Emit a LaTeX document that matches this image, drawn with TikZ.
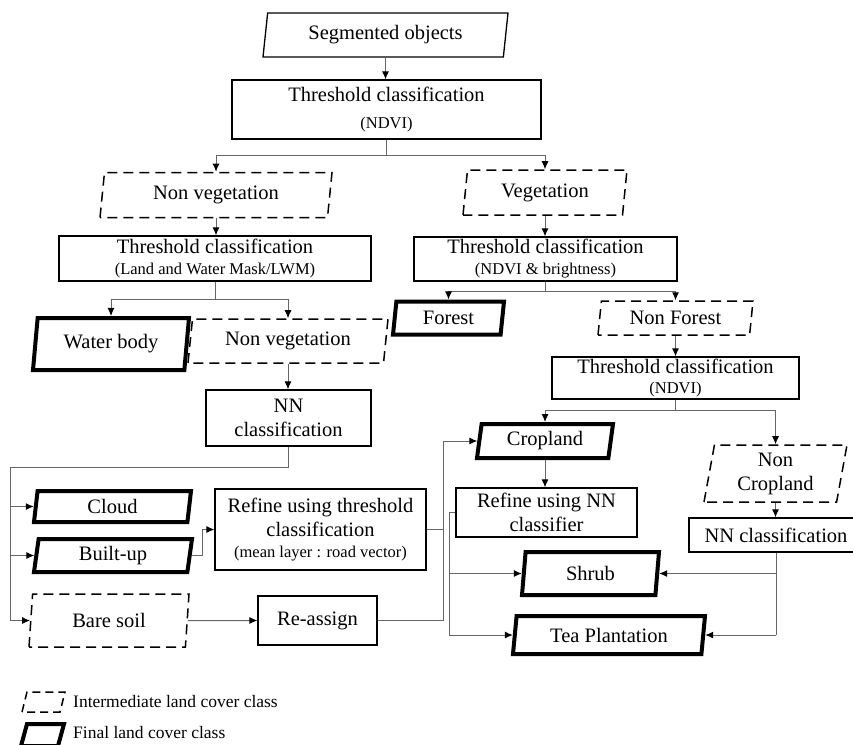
\documentclass[tikz,border=0pt]{standalone}
\usepackage{fontspec}
\setmainfont{Liberation Serif}
\usepackage{tikz}
\usetikzlibrary{arrows.meta}
\usetikzlibrary{shapes.geometric}
\usetikzlibrary{calc}
\newcommand\boxwidth{1.3pt}
\newcommand\finalwidth{4pt}
\newcommand\interwidth{1.5pt}
\newcommand\linkwidth{1pt}
\newcommand\mainsize{\fontsize{20.5}{24}\selectfont}
\newcommand\subsize{\fontsize{16.5}{19}\selectfont}
\newcommand\legendsize{\fontsize{17.5}{20}\selectfont}
\tikzset{>={Latex[length=8pt,width=7pt,color=black]}}
\tikzset{
    dims/.style 2 args={minimum width=#1, minimum height=#2}
}
\tikzstyle{process} = [rectangle, draw, line width=\boxwidth, font=\mainsize, align=center, inner sep=0pt]
\tikzstyle{slanted} = [trapezium, trapezium left angle=76, trapezium right angle=104,
 trapezium stretches body, inner sep=0pt, font=\mainsize, align=center]
\tikzstyle{dataset} = [slanted, draw, line width=\boxwidth]
\tikzstyle{inter}   = [slanted, draw, line width=\interwidth, dash pattern=on 10pt off 6pt]
\tikzstyle{final}   = [slanted, draw, line width=\finalwidth]
\tikzstyle{link}    = [draw=black!60, line width=\linkwidth]
\tikzstyle{keytext} = [anchor=west, inner sep=0pt, font=\legendsize]

\begin{document}
\begin{tikzpicture}[x=1pt, y=-1pt]
    \useasboundingbox (0,0) rectangle (853,744);
    \clip (0,0) rectangle (853,744);
    % upper part
    \draw (385.5, 35) node[dataset, dims={245pt}{44pt}] (seg) {Segmented objects};
    \draw (386.5, 109.5) node[process, dims={309pt}{59pt}] (tc1)
        {Threshold classification\\[3pt]{\subsize (NDVI)}};
    \draw (216, 195) node[inter, dims={232pt}{45pt}] (nonveg1) {Non vegetation};
    \draw (545, 192.5) node[inter, dims={164pt}{45pt}] (veg) {Vegetation};
    \draw (215, 258.5) node[process, dims={312pt}{45pt}] (tc2)
        {Threshold classification\\[-3pt]{\subsize (Land and Water Mask/LWM)}};
    \draw (545.5, 259) node[process, dims={263pt}{44pt}] (tc3)
        {Threshold classification\\[-3pt]{\subsize (NDVI \& brightness)}};
    % non vegetation branch
    \draw (111, 344) node[final, dims={156pt}{52pt}] (water) {Water body};
    \draw (288, 341) node[inter, dims={200pt}{44pt}] (nonveg2) {Non vegetation};
    \draw (288.5, 418) node[process, dims={165pt}{56pt}] (nn1) {NN\\classification};
    \draw (112.5, 506.5) node[final, dims={157pt}{31pt}] (cloud) {Cloud};
    \draw (113, 555.5) node[final, dims={158pt}{33pt}] (built) {Built-up};
    \draw (109, 620.5) node[inter, dims={160pt}{53pt}] (bare) {Bare soil};
    \draw (320.5, 529.5) node[process, dims={211pt}{81pt}] (refine1)
        {Refine using threshold\\classification\\[-3pt]{\subsize (mean layer : road vector)}};
    \draw (317.5, 620.5) node[process, dims={119pt}{49pt}] (reassign) {Re-assign};
    % vegetation branch
    \draw (448.5, 318) node[final, dims={111pt}{33pt}] (forest) {Forest};
    \draw (675.5, 318) node[inter, dims={155pt}{34pt}] (nonforest) {Non Forest};
    \draw (675.5, 378) node[process, dims={247pt}{42pt}] (tc4)
        {Threshold classification\\[-4pt]{\subsize (NDVI)}};
    \draw (545, 441) node[final, dims={136pt}{34pt}] (cropland) {Cropland};
    \draw (775.5, 473.5) node[inter, dims={143pt}{57pt}] (noncrop) {Non\\Cropland};
    \draw (546.5, 512.5) node[process, dims={181pt}{49pt}] (refinenn) {Refine using NN\\classifier};
    \draw (776, 535) node[process, dims={174pt}{34pt}] (nn2) {NN classification};
    \draw (590.5, 573.5) node[final, dims={137pt}{43pt}] (shrub) {Shrub};
    \draw (609, 635) node[final, dims={192pt}{38pt}] (tea) {Tea Plantation};
    % legend
    \draw[line width=\interwidth, dash pattern=on 8pt off 5pt]
        (22, 712) -- (27, 692) -- (65, 692) -- (60, 712) -- cycle;
    \draw (73, 702) node[keytext] (keyintertext) {Intermediate land cover class};
    \draw[line width=\finalwidth] (21, 746) -- (27, 724) -- (64, 724) -- (58, 746) -- cycle;
    \draw (73, 733) node[keytext] (keyfinaltext) {Final land cover class};
    % bus points
    \coordinate (leftbus) at (10, 467);
    \coordinate (midbus) at (443, 0);
    % connectors
    \draw[link, ->] (seg.south) -- (seg.south |- tc1.north);
    \draw[link] (tc1.south) -- ++(0,16) coordinate (tc1split);
    \draw[link, ->] (tc1split) -| (nonveg1.north);
    \draw[link, ->] (tc1split) -| (veg.north);
    \draw[link, ->] (nonveg1.south) -- (nonveg1.south |- tc2.north);
    \draw[link, ->] (veg.south) -- (veg.south |- tc3.north);
    \draw[link] (tc2.south) -- ++(0,18) coordinate (tc2split);
    \draw[link, ->] (tc2split) -| (water.north);
    \draw[link, ->] (tc2split) -| (nonveg2.north);
    \draw[link, ->] (nonveg2.south) -- (nonveg2.south |- nn1.north);
    \draw[link] (nn1.south) |- (leftbus) -- (leftbus |- bare.west);
    \draw[link, ->] (leftbus |- cloud.west) -- (cloud.west);
    \draw[link, ->] (leftbus |- built.west) -- (built.west);
    \draw[link, ->] (leftbus |- bare.west) -- (bare.west);
    \draw[link, ->] (built.east) -- ++(11,0) |- (refine1.west);
    \draw[link, ->] (bare.east) -- (reassign.west);
    \draw[link] (refine1.east) -- (refine1.east -| midbus);
    \draw[link, ->] (reassign.east) -| (midbus |- cropland.west) -- (cropland.west);
    \draw[link] (tc3.south) -- ++(0,10) coordinate (tc3split);
    \draw[link, ->] (tc3split) -| (forest.north);
    \draw[link, ->] (tc3split) -| (nonforest.north);
    \draw[link, ->] (nonforest.south) -- (nonforest.south |- tc4.north);
    \draw[link] (tc4.south) -- ++(0,11) coordinate (tc4split);
    \draw[link, ->] (tc4split) -| (cropland.north);
    \draw[link, ->] (tc4split) -| (noncrop.north);
    \draw[link, ->] (cropland.south) -- (cropland.south |- refinenn.north);
    \draw[link] (refinenn.west) -- ++(-6,0) coordinate (nnbus) -- (nnbus |- tea.west);
    \draw[link, ->] (nnbus |- shrub.west) -- (shrub.west);
    \draw[link, ->] (nnbus |- tea.west) -- (tea.west);
    \draw[link, ->] (noncrop.south) -- (noncrop.south |- nn2.north);
    \draw[link] (nn2.south) -- (nn2.south |- tea.east);
    \draw[link, ->] (nn2.south |- shrub.east) -- (shrub.east);
    \draw[link, ->] (nn2.south |- tea.east) -- (tea.east);
\end{tikzpicture}
\end{document}
